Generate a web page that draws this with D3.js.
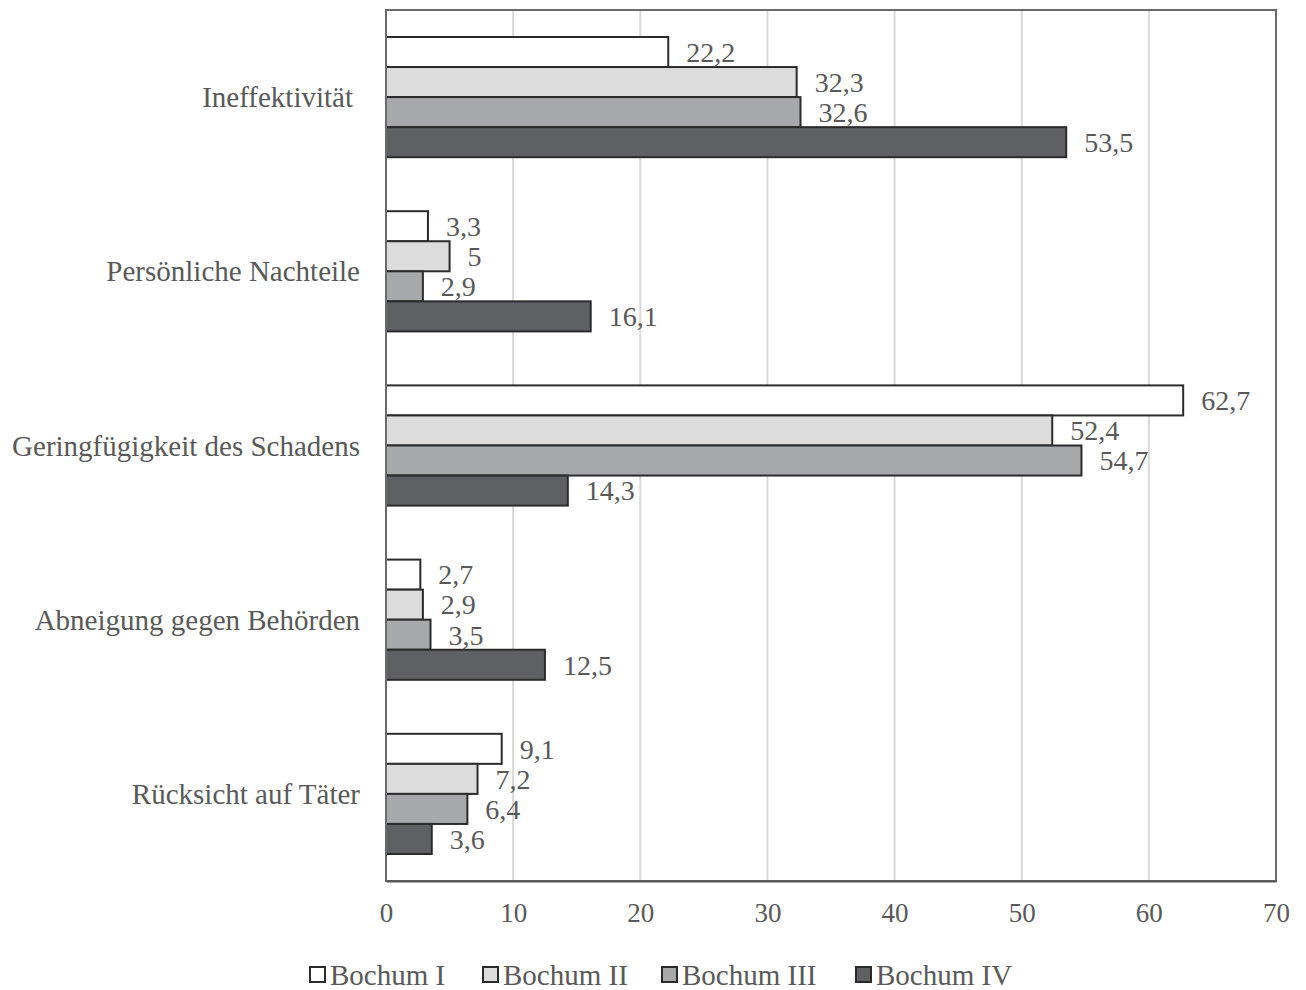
<!DOCTYPE html>
<html>
<head>
<meta charset="utf-8">
<script src="https://cdn.jsdelivr.net/npm/d3@7"></script>
<style>
  body { margin: 0; background: #fff; }
  text { font-family: "Liberation Serif", "Times New Roman", serif; fill: #595959; }
</style>
</head>
<body>
<div id="chart"></div>
<script>
var categories = ["Ineffektivität", "Persönliche Nachteile", "Geringfügigkeit des Schadens", "Abneigung gegen Behörden", "Rücksicht auf Täter"];
var seriesNames = ["Bochum I", "Bochum II", "Bochum III", "Bochum IV"];
var bochumI = [22.2, 3.3, 62.7, 2.7, 9.1];
var bochumII = [32.3, 5, 52.4, 2.9, 7.2];
var bochumIII = [32.6, 2.9, 54.7, 3.5, 6.4];
var bochumIV = [53.5, 16.1, 14.3, 12.5, 3.6];
var xTicks = [0, 10, 20, 30, 40, 50, 60, 70];
var colors = ["#ffffff", "#dcdcdd", "#a7a8aa", "#5f6064"];

var svgWidth = 1306;
var svgHeight = 990;
var margin = { top: 10, right: 30, bottom: 109, left: 386 };
var width = svgWidth - margin.left - margin.right;
var height = svgHeight - margin.top - margin.bottom;

var allSeries = [bochumI, bochumII, bochumIII, bochumIV];

var svg = d3.select("#chart")
    .append("svg")
    .attr("width", svgWidth)
    .attr("height", svgHeight);

var chartGroup = svg.append("g")
    .attr("transform", `translate(${margin.left}, ${margin.top})`);

var xScale = d3.scaleLinear()
    .domain([0, 70])
    .range([0, width]);

var yScale = d3.scaleBand()
    .domain(categories)
    .range([0, height])
    .paddingInner(0.31)
    .paddingOuter(0.155);

var ySub = d3.scaleBand()
    .domain(seriesNames)
    .range([0, yScale.bandwidth()]);

// gridlines
chartGroup.selectAll(".grid")
    .data(xTicks.slice(1, -1))
    .enter()
    .append("line")
    .attr("x1", d => xScale(d))
    .attr("x2", d => xScale(d))
    .attr("y1", 0)
    .attr("y2", height)
    .attr("stroke", "#d9d9d9")
    .attr("stroke-width", 2);

// bars
var groups = chartGroup.selectAll(".cat")
    .data(categories)
    .enter()
    .append("g")
    .attr("transform", d => `translate(0, ${yScale(d)})`);

groups.each(function (cat, ci) {
    var g = d3.select(this);
    seriesNames.forEach(function (s, si) {
        var v = allSeries[si][ci];
        g.append("rect")
            .attr("x", 0)
            .attr("y", ySub(s))
            .attr("width", xScale(v))
            .attr("height", ySub.bandwidth())
            .attr("fill", colors[si])
            .attr("stroke", "#2b2b2b")
            .attr("stroke-width", 2);
        g.append("text")
            .attr("x", xScale(v) + 18)
            .attr("y", ySub(s) + ySub.bandwidth() / 2)
            .attr("dy", "0.35em")
            .attr("font-size", "28px")
            .text(String(v).replace(".", ","));
    });
});

// frame
chartGroup.append("rect")
    .attr("x", 0)
    .attr("y", 0)
    .attr("width", width)
    .attr("height", height)
    .attr("fill", "none")
    .attr("stroke", "#6b6b6b")
    .attr("stroke-width", 2);

// category labels
chartGroup.selectAll(".catLabel")
    .data(categories)
    .enter()
    .append("text")
    .attr("x", (d, i) => i === 0 ? -33 : -26)
    .attr("y", d => yScale(d) + yScale.bandwidth() / 2)
    .attr("dy", "0.35em")
    .attr("text-anchor", "end")
    .attr("font-size", "29px")
    .text(d => d);

// x axis
var bottomAxis = d3.axisBottom(xScale).tickValues(xTicks).tickSize(0).tickPadding(22);
var xAxis = chartGroup.append("g")
    .attr("transform", `translate(0, ${height})`)
    .call(bottomAxis);
xAxis.select(".domain").attr("stroke", "#555").attr("stroke-width", 2);
xAxis.selectAll("text")
    .attr("font-size", "27px")
    .attr("font-family", "Liberation Serif, serif")
    .attr("fill", "#595959");

// legend
var legendX = [310, 483, 662, 856];
var legend = svg.selectAll(".legend")
    .data(seriesNames)
    .enter()
    .append("g")
    .attr("transform", (d, i) => `translate(${legendX[i]}, 975)`);

legend.append("rect")
    .attr("x", 0)
    .attr("y", -8)
    .attr("width", 15)
    .attr("height", 15)
    .attr("fill", (d, i) => colors[i])
    .attr("stroke", "#2b2b2b")
    .attr("stroke-width", 2);

legend.append("text")
    .attr("x", 20)
    .attr("y", 0)
    .attr("dy", "0.35em")
    .attr("font-size", "29px")
    .text(d => d);
</script>
</body>
</html>
